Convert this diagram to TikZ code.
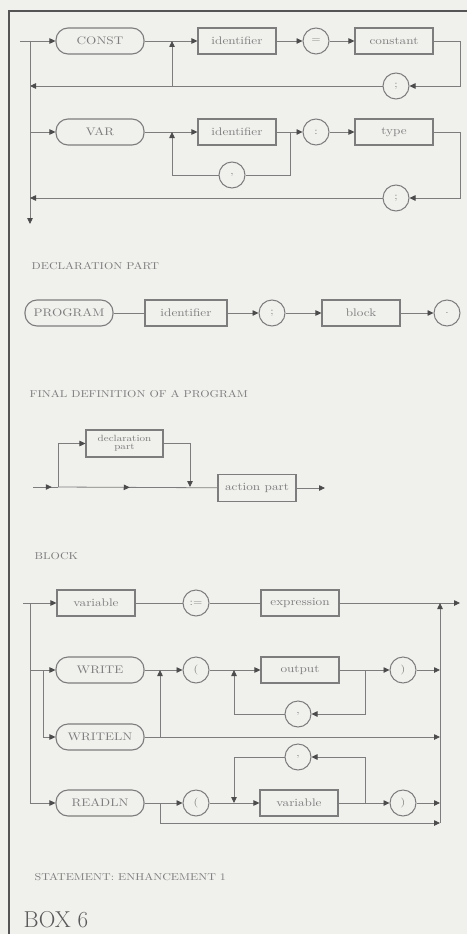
\documentclass[tikz,border=0pt]{standalone}
\usepackage{fontspec}
\setmainfont{Latin Modern Roman}[FakeStretch=1.2]
\newfontfamily\plainfont{Latin Modern Roman}
\usetikzlibrary{arrows.meta,decorations.markings}
\definecolor{paper}{RGB}{240,240,237}
\definecolor{ink}{RGB}{125,125,125}
\definecolor{rule}{RGB}{85,85,85}
\begin{document}
\begin{tikzpicture}[x=1pt, y=-1pt, color=ink, line width=0.8pt,
    > = {Triangle[length=6pt,width=5.5pt,color=black!70]},
    box/.style={draw, line width=1.1pt, minimum width=78pt, minimum height=26pt,
      inner sep=1pt, font=\fontsize{11}{12}\selectfont},
    kw/.style={box, rounded corners=12pt, minimum width=88pt},
    sym/.style={draw, circle, line width=1pt, minimum size=26pt, inner sep=0pt,
      font=\fontsize{10}{10}\selectfont},
    lbl/.style={anchor=west, font=\fontsize{10}{12}\selectfont},
    mid/.style={postaction={decorate},
      decoration={markings, mark=at position #1 with {\arrow{>}}}}]
  \fill[paper] (0,0) rectangle (467,934);
  \useasboundingbox (0,0) rectangle (467,934);
  % Frame
  \draw[rule, line width=2pt] (9,934) -- (9,11);
  \draw[rule, line width=1.5pt] (8,11) -- (467,11);

  % CONST
  \coordinate (cin) at (20,41);
  \coordinate (cv) at (30,41);
  \coordinate (cj) at (172,41);
  \coordinate (cb) at (172,86);
  \coordinate (cre) at (460,86);
  \coordinate (cl) at (30,86);
  \coordinate (vdown) at (30,224);
  \node[kw] (const) at (100,41) {CONST};
  \node[box] (cid) at (237,41) {identifier};
  \node[sym] (ceq) at (316,41) {=};
  \node[box] (cval) at (394,41) {constant};
  \node[sym] (csemi) at (396,86) {;};
  \draw[->] (cin) -- (const);
  \draw[->] (const) -- (cid);
  \draw[->] (cid) -- (ceq);
  \draw[->] (ceq) -- (cval);
  \draw[->] (cval) -| (cre) -- (csemi);
  \draw[->] (csemi) -- (cl);
  \draw[->] (cb) -- (cj);
  \draw[->] (cv) -- (vdown);

  % VAR
  \coordinate (vv) at (30,132);
  \coordinate (vj) at (172,132);
  \coordinate (vk) at (290,132);
  \coordinate (vre) at (460,198);
  \coordinate (vl) at (30,198);
  \node[kw] (var) at (100,132) {VAR};
  \node[box] (vid) at (237,132) {identifier};
  \node[sym] (vcol) at (316,132) {:};
  \node[box] (vtyp) at (394,132) {type};
  \node[sym] (vcom) at (232,175) {,};
  \node[sym] (vsemi) at (396,198) {;};
  \draw[->] (vv) -- (var);
  \draw[->] (var) -- (vid);
  \draw[->] (vid) -- (vcol);
  \draw[->] (vcol) -- (vtyp);
  \draw (vk) |- (vcom);
  \draw[->] (vcom) -| (vj);
  \draw[->] (vtyp) -| (vre) -- (vsemi);
  \draw[->] (vsemi) -- (vl);
  \node[lbl] (declbl) at (28,266) {DECLARATION PART};

  % PROGRAM
  \node[kw] (prog) at (69,313) {PROGRAM};
  \node[box, minimum width=82pt] (pid) at (186,313) {identifier};
  \node[sym] (psemi) at (272,313) {;};
  \node[box] (pblk) at (361,313) {block};
  \node[sym] (pdot) at (447,313) {.};
  \draw (prog) -- (pid);
  \draw[->] (pid) -- (psemi);
  \draw[->] (psemi) -- (pblk);
  \draw[->] (pblk) -- (pdot);
  \node[lbl] (finlbl) at (26,394) {FINAL DEFINITION OF A PROGRAM};

  % Block
  \coordinate (bin) at (33,487);
  \coordinate (bj) at (58,487);
  \coordinate (bk) at (190,487);
  \coordinate (bout) at (325,488);
  \node[box, minimum width=77pt, minimum height=27pt, align=center,
    font=\fontsize{9}{8}\selectfont] (decl) at (124.5,443.5) {declaration\\part};
  \node[box, minimum height=27pt] (act) at (257,488) {action part};
  \draw[mid=0.75] (bin) -- (bj);
  \draw[->] (bj) |- (decl);
  \draw[->] (decl) -| (bk);
  \draw[mid=0.45] (bj) -- (act);
  \draw[->] (act) -- (bout);
  \node[lbl] (blklbl) at (31,556) {BLOCK};

  % Statement
  \coordinate (sin) at (23,603);
  \coordinate (sl) at (30,603);
  \coordinate (slb) at (30,803);
  \coordinate (sr) at (440,603);
  \coordinate (srb) at (440,823);
  \coordinate (sout) at (460,603);
  \node[box] (svar) at (96,603) {variable};
  \node[sym] (sass) at (196,603) {:=};
  \node[box] (sexp) at (300,603) {expression};
  \draw[->] (sin) -- (svar);
  \draw (svar) -- (sass);
  \draw (sass) -- (sexp);
  \draw[->] (sexp) -- (sout);
  \draw[->] (srb) -- (sr);
  \draw (sl) -- (slb);

  % WRITE / WRITELN
  \coordinate (swl) at (30,670);
  \coordinate (swj) at (43,670);
  \coordinate (wj) at (160,670);
  \coordinate (wk) at (234,670);
  \coordinate (wm) at (365,670);
  \coordinate (wend) at (440,670);
  \coordinate (wlj) at (160,737);
  \coordinate (wlend) at (440,737);
  \node[kw] (write) at (100,670) {WRITE};
  \node[sym] (wop) at (196,670) {(};
  \node[box] (wout) at (300,670) {output};
  \node[sym] (wcl) at (403,670) {)};
  \node[sym] (wcom) at (298,714) {,};
  \node[kw] (writeln) at (100,737) {WRITELN};
  \draw[->] (swl) -- (write);
  \draw[->] (write) -- (wop);
  \draw[->] (wop) -- (wout);
  \draw[->] (wout) -- (wcl);
  \draw[->] (wcl) -- (wend);
  \draw[->] (wm) |- (wcom);
  \draw[->] (wcom) -| (wk);
  \draw[->] (swj) |- (writeln);
  \draw[->] (writeln) -- (wlend);
  \draw[->] (wlj) -- (wj);

  % READLN
  \coordinate (rj) at (160,803);
  \coordinate (rk) at (234,803);
  \coordinate (rm) at (365,803);
  \coordinate (rend) at (440,803);
  \node[kw] (readln) at (100,803) {READLN};
  \node[sym] (rop) at (196,803) {(};
  \node[box] (rvar) at (299,803) {variable};
  \node[sym] (rcl) at (403,803) {)};
  \node[sym] (rcom) at (298,757) {,};
  \draw[->] (slb) -- (readln);
  \draw[->] (readln) -- (rop);
  \draw[->] (rop) -- (rvar);
  \draw[->] (rvar) -- (rcl);
  \draw[->] (rcl) -- (rend);
  \draw[->] (rm) |- (rcom);
  \draw[->] (rcom) -| (rk);
  \draw[->] (rj) |- (srb);
  \node[lbl] (stlbl) at (31,877) {STATEMENT: ENHANCEMENT 1};
  \node[anchor=west, text=black!65, font=\plainfont\fontsize{23}{25}\selectfont]
    (boxno) at (20,920) {BOX 6};
\end{tikzpicture}
\end{document}
